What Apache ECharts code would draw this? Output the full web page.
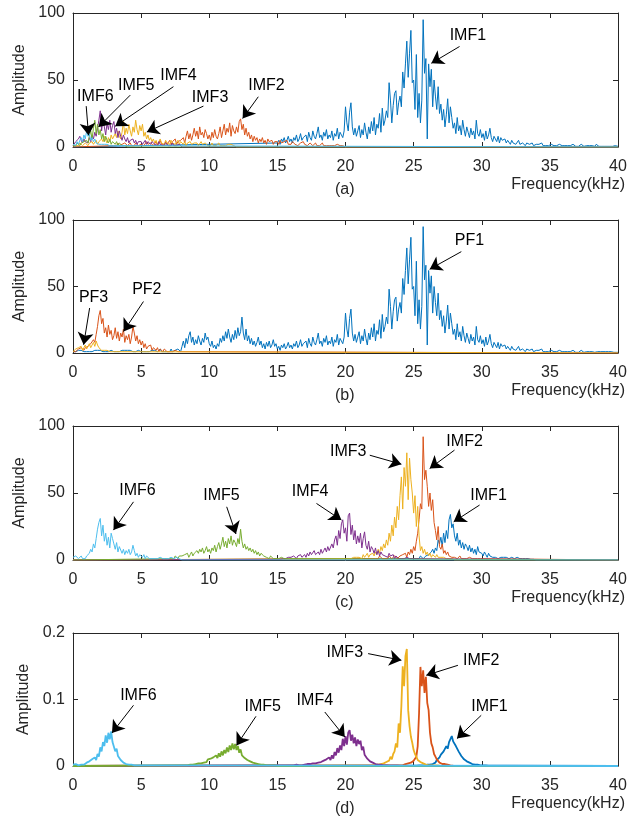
<!DOCTYPE html>
<html><head><meta charset="utf-8">
<script src="https://cdn.jsdelivr.net/npm/echarts@6/dist/echarts.min.js"></script>
<style>html,body{margin:0;padding:0;background:#fff}#c{width:641px;height:817px}</style>
</head><body><div id="c"></div>
<script>
// ---------------- DATA (amplitude spectra, sampled every 0.1 kHz from each start) ----------------
const STEP = 0.1;
const freqTicks = [0, 5, 10, 15, 20, 25, 30, 35, 40];
const ampTicksABC = [0, 50, 100];
const ampTicksD = [0, 0.1, 0.2];

// (a) EMD-type decomposition
const imf1AStart = 15;
const imf1A = [3,5,2,6,4,7,3,5,8,4,6,3,7,5,9,4,6,10,5,7,
  6,9,4,11,7,5,12,8,6,10,15,7,9,5,11,8,13,6,9,7,12,5,10,8,14,6,11,9,7,12,
  30,18,12,26,33,15,9,14,8,12,
  16,7,13,9,18,11,6,15,10,19,
  12,22,9,17,14,25,11,29,16,20,
  27,22,48,35,18,31,40,42,24,33,
  38,30,56,44,62,79,52,70,87,48,
  50,28,69,22,40,18,35,95,55,66,
  6,62,45,58,30,50,38,28,45,25,
  32,20,28,15,24,36,18,30,22,14,
  18,10,22,12,16,9,20,13,8,15,
  11,7,14,9,12,6,20,10,8,13,
  7,10,5,12,6,9,14,7,4,8,
  6,4,8,3,7,5,4,6,3,5,
  4,2,5,3,4,2,3,5,2,3,
  3,2,1,3,2,2,1,3,1,2,
  2,1,2,1,3,1,2,1,2,1,
  1,2,1,1,2,1,1,2,1,1,
  1,1,2,1,0.5,1,1,2,1,0.5,1,0.5,1,2,1,0.5,1,1,0.5,1,
  0.5,1,1,0.5,2,1,0.5,1,0.5,1,0.5,1,0.5,1,0.5,1,0.5,0.5,1,0.5,0.5];
const imf2AStart = 3;
const imf2A = [1,2,1,3,1,2,2,1,3,2,1,2,3,1,2,1,3,2,1,2,2,3,1,2,4,2,1,3,2,1,
  2,4,1,3,5,2,3,1,4,2,3,5,2,4,3,6,2,4,3,5,
  4,7,3,8,12,6,10,5,9,14,
  8,12,6,15,9,11,7,13,10,6,
  9,5,11,7,13,8,6,10,15,7,
  12,17,9,14,11,18,8,16,12,10,
  15,11,19,21,13,17,9,14,8,11,
  6,9,4,8,5,7,3,6,4,7,
  3,5,2,6,4,3,5,2,4,3,
  4,2,5,3,2,4,3,5,2,3,2,4,3,2,3,1,2,3,2,4,
  2,3,1,2,3,2,1,2,3,1,2,1,2,3,1,2,1,2,1,2,1,2,1,1,2,1,1,2,1,1,0];
const imf3AStart = 0;
const imf3A = [1,2,1,2,1,3,2,1,2,3,2,1,3,2,4,2,3,5,2,4,
  3,6,4,8,5,3,7,4,9,6,
  5,10,7,12,8,6,11,19,9,14,
  10,17,12,8,15,11,20,13,9,16,
  12,17,8,11,6,9,5,7,4,6,
  3,5,2,4,6,3,4,2,5,3,
  4,2,5,3,4,2,3,5,2,4,
  3,2,4,1,3,2,4,2,1,3,2,3,1,2,4,2,1,3,2,1,
  2,1,3,1,2,1,2,3,1,2,1,2,1,1,2,1,2,1,1,1,0];
const imf4AStart = 0;
const imf4A = [1,2,4,3,6,8,5,3,6,4,
  5,3,7,4,9,6,11,8,14,20,
  27,12,22,15,9,18,13,20,11,16,
  19,10,14,7,12,8,5,9,6,4,
  7,3,5,4,6,3,5,2,4,3,
  4,2,3,5,2,4,3,2,4,3,
  2,3,1,4,2,3,1,2,3,2,
  1,2,1,3,1,2,1,1,2,1,0];
const imf5AStart = 0;
const imf5A = [1,2,1,3,2,1,3,2,4,3,
  5,3,8,12,6,14,20,10,17,9,
  13,6,10,4,8,5,3,6,2,4,
  3,2,4,1,3,2,1,2,1,1,0];
const imf6AStart = 0;
const imf6A = [2,3,1,4,2,5,7,4,9,6,
  12,8,10,5,7,4,6,3,4,2,
  3,2,1,2,1,2,1,1,2,1,0];

// (b) LMD-type decomposition (PF1 above 15 kHz coincides with IMF1 of (a))
const pf1LowStart = 0;
const pf1Low = [1,2,1,1,2,1,2,1,1,2,1,2,1,2,1,1,2,1,2,1,2,1,1,2,1,2,1,1,2,1,
  1,2,1,2,1,1,2,1,2,1,2,1,2,1,1,2,1,1,2,1,1,2,1,2,1,2,1,1,2,1,
  2,1,1,2,3,1,2,1,2,1,2,1,3,1,2,2,1,3,2,1,
  5,9,4,11,7,13,16,8,12,6,
  10,7,13,9,6,11,8,15,10,12,
  7,5,9,4,6,3,7,5,11,8,
  13,9,16,11,18,12,8,14,10,17,
  11,19,13,16,27,15,10,18,9,13,
  7,11,6,9,5,8,12,6,9,4,
  7,3,8,5,9,4,6,10,5,7];
const pf2BStart = 0;
const pf2B = [1,2,1,2,3,2,4,3,2,4,
  3,5,4,7,6,10,8,14,20,28,
  32,22,26,15,19,12,21,14,17,10,
  13,19,11,16,9,15,12,18,8,13,
  10,14,7,12,20,15,9,13,7,10,
  6,9,4,7,3,5,4,6,2,4,
  3,2,4,1,3,2,1,3,2,1,
  2,1,2,1,1,2,1,1,2,1,0];
const pf3BStart = 0;
const pf3B = [1,2,3,2,4,3,5,2,4,6,
  3,5,7,4,6,8,5,9,6,4,
  3,2,1,2,1,2,1,1,1,1,0];

// (c) proposed method, amplitude
const imf1CStart = 25;
const imf1C = [1,0.5,1,2,1,3,2,1,2,3,
  2,4,3,6,8,5,9,7,15,12,
  17,10,20,13,22,16,30,34,24,27,
  18,14,20,11,15,9,13,8,12,10,
  7,11,6,9,5,8,4,10,6,7,
  5,3,6,4,2,5,3,4,2,3,
  2,3,1,2,2,1,2,1,2,1,
  1,1,2,1,1,1,2,1,1,1,
  1,0.5,1,0.5,1,0.5,0.5,1,0.5,0.5,0];
const imf2CStart = 22;
const imf2C = [1,2,1,2,1,3,2,1,2,1,
  2,1,3,2,1,2,3,2,1,2,
  3,2,4,3,5,2,6,4,8,5,
  10,7,14,20,30,42,38,92,60,67,
  55,40,50,37,45,28,22,15,25,10,
  8,12,5,7,4,6,3,4,2,3,
  2,3,1,2,3,1,2,1,2,1,
  1,2,1,1,2,1,1,1,1,1,0];
const imf3CStart = 20;
const imf3C = [1,2,1,2,1,1,2,1,2,1,
  2,3,1,4,2,3,5,2,4,3,
  5,3,6,4,8,5,10,7,12,9,
  15,11,20,14,26,18,32,24,40,30,
  48,62,38,69,55,80,45,76,60,50,
  35,48,25,40,18,7,10,5,8,4,
  6,3,5,2,4,3,2,4,2,1,
  2,1,2,1,1,2,1,1,1,1,0];
const imf4CStart = 15;
const imf4C = [0.5,1,0.5,1,1,2,1,1,2,1,
  2,1,3,2,1,3,2,4,2,3,
  4,2,5,3,6,4,3,7,4,5,
  6,4,8,5,7,9,6,10,7,8,
  12,9,15,18,11,22,16,27,30,20,
  24,14,33,35,19,26,15,22,12,18,
  13,20,9,16,21,11,8,14,6,10,
  8,5,9,4,7,3,6,4,5,3,
  4,2,5,3,2,4,1,3,2,1,
  2,1,2,1,1,2,1,1,1,1,0];
const imf5CStart = 7;
const imf5C = [1,2,1,2,1,3,2,1,3,2,
  3,2,4,3,5,2,4,6,3,5,
  4,7,5,8,6,9,5,7,10,6,
  8,5,9,7,11,6,10,13,8,12,
  17,10,14,9,16,12,18,11,15,13,
  10,16,12,23,14,9,12,8,10,7,
  9,6,8,5,7,4,6,3,5,4,
  3,4,2,3,1,3,2,1,2,1,
  2,1,1,2,1,1,1,1,1,1,0];
const imf6CStart = 0;
const imf6C = [2,1,3,2,1,2,3,1,2,1,
  3,2,5,8,6,12,9,16,23,28,
  31,18,26,14,20,11,17,9,20,16,
  12,8,13,6,10,11,5,8,4,7,
  5,8,4,6,11,7,3,5,2,4,
  3,2,4,1,3,2,1,2,1,2,
  1,2,1,1,2,1,1,2,1,1,
  1,1,2,1,1,1,2,1,1,1,0];

// (d) proposed method, normalised amplitude
const imf1DStart = 25;
const imf1D = [0.0005,0.001,0.0005,0.001,0.001,0.002,0.001,0.002,0.001,0.002,
  0.002,0.003,0.002,0.004,0.003,0.006,0.005,0.009,0.008,0.013,
  0.017,0.014,0.022,0.020,0.030,0.026,0.036,0.034,0.045,0.037,
  0.040,0.030,0.033,0.022,0.024,0.015,0.016,0.010,0.011,0.007,
  0.008,0.005,0.006,0.003,0.004,0.002,0.003,0.002,0.002,0.001,
  0.002,0.001,0.001,0.001,0.001,0.0005,0.001,0.0005,0.0005,0.0005,
  0.0005,0.0005,0.0005,0.0005,0.0005,0.0005,0.0005,0.0005,0.0005,0.0005,0];
const imf2DStart = 24;
const imf2D = [0.001,0.002,0.001,0.002,0.003,0.002,0.004,0.003,0.005,0.004,
  0.008,0.006,0.014,0.030,0.080,0.149,0.120,0.144,0.110,0.134,
  0.095,0.084,0.050,0.034,0.028,0.018,0.014,0.010,0.008,0.005,
  0.004,0.003,0.002,0.003,0.001,0.002,0.001,0.001,0.0005,0.0005,0];
const imf3DStart = 22;
const imf3D = [0.001,0.001,0.002,0.001,0.002,0.002,0.003,0.002,0.004,0.003,
  0.006,0.004,0.008,0.014,0.010,0.018,0.022,0.034,0.028,0.064,
  0.050,0.090,0.150,0.120,0.165,0.176,0.084,0.060,0.044,0.035,
  0.024,0.018,0.014,0.009,0.010,0.006,0.005,0.004,0.003,0.002,
  0.002,0.001,0.002,0.001,0.001,0.001,0.0005,0.001,0.0005,0.0005,0];
const imf4DStart = 16;
const imf4D = [0.001,0.0005,0.001,0.001,0.002,0.001,0.001,0.002,0.001,0.002,
  0.002,0.001,0.003,0.002,0.003,0.002,0.004,0.002,0.004,0.003,
  0.005,0.003,0.006,0.004,0.008,0.005,0.010,0.007,0.013,0.009,
  0.016,0.011,0.021,0.016,0.027,0.020,0.031,0.024,0.041,0.030,
  0.045,0.032,0.050,0.054,0.038,0.047,0.034,0.043,0.030,0.040,
  0.033,0.038,0.024,0.029,0.017,0.020,0.011,0.013,0.007,0.009,
  0.005,0.006,0.003,0.004,0.002,0.003,0.002,0.002,0.001,0.001,
  0.001,0.001,0.0005,0.001,0.0005,0.0005,0.0005,0.0005,0.0005,0.0005,0];
const imf5DStart = 8;
const imf5D = [0.001,0.002,0.001,0.002,0.001,0.003,0.002,0.003,0.002,0.004,
  0.003,0.005,0.004,0.006,0.004,0.007,0.005,0.008,0.006,0.010,
  0.007,0.011,0.009,0.013,0.010,0.016,0.012,0.019,0.014,0.022,
  0.016,0.024,0.019,0.028,0.021,0.031,0.024,0.034,0.025,0.033,
  0.024,0.030,0.020,0.025,0.016,0.019,0.012,0.015,0.009,0.012,
  0.007,0.009,0.005,0.007,0.004,0.005,0.003,0.004,0.002,0.003,
  0.002,0.003,0.001,0.002,0.001,0.002,0.001,0.001,0.001,0.001,0];
const imf6DStart = 0;
const imf6D = [0.002,0.001,0.003,0.002,0.001,0.003,0.002,0.004,0.002,0.003,
  0.005,0.003,0.007,0.005,0.010,0.007,0.013,0.009,0.018,0.014,
  0.028,0.022,0.036,0.030,0.046,0.035,0.050,0.040,0.052,0.036,
  0.035,0.022,0.026,0.015,0.016,0.009,0.010,0.005,0.006,0.003,
  0.004,0.002,0.003,0.002,0.002,0.001,0.002,0.001,0.001,0.001,0];

// ---------------- CHART BUILDING ----------------
const C = {blue:'#0072BD', orange:'#D95319', yellow:'#EDB120', purple:'#7E2F8E', green:'#77AC30', cyan:'#4DBEEE'};
const FONT = 'Liberation Sans, Arial, Helvetica, sans-serif';
const INK = '#262626';

function toPairs(start, vals) {
  const out = [];
  if (start > 0) out.push([0, 0]);
  vals.forEach((v, i) => out.push([Math.round((start + i * STEP) * 100) / 100, v]));
  const last = start + (vals.length - 1) * STEP;
  if (last < 40 - 1e-9) out.push([40, 0]);
  return out;
}

const grids = [
  {left: 73, top: 13, width: 545, height: 134},
  {left: 73, top: 220, width: 545, height: 133},
  {left: 73, top: 426, width: 545, height: 134},
  {left: 73, top: 633, width: 545, height: 133}
];

const panels = [
  { max: 100, yTicks: ampTicksABC, tag: '(a)', lw: 1, series: [
      ['IMF1', C.blue, toPairs(imf1AStart, imf1A)],
      ['IMF2', C.orange, toPairs(imf2AStart, imf2A)],
      ['IMF3', C.yellow, toPairs(imf3AStart, imf3A)],
      ['IMF4', C.purple, toPairs(imf4AStart, imf4A)],
      ['IMF5', C.green, toPairs(imf5AStart, imf5A)],
      ['IMF6', C.cyan, toPairs(imf6AStart, imf6A)]],
    notes: [
      {t:'IMF6', at:[1.64,37.5], from:[0.97,30.5], to:[1.14,8.8]},
      {t:'IMF5', at:[4.64,46], from:[4.2,38.7], to:[1.88,15]},
      {t:'IMF4', at:[7.74,53], from:[7.37,45], to:[3.1,15.5]},
      {t:'IMF3', at:[10.06,37], from:[9.57,30.5], to:[5.42,11.2]},
      {t:'IMF2', at:[14.2,45.5], from:[13.6,37.5], to:[12.45,21.3]},
      {t:'IMF1', at:[28.98,83], from:[28.37,75], to:[26.3,62.5]}]},
  { max: 100, yTicks: ampTicksABC, tag: '(b)', lw: 1, series: [
      ['PF1', C.blue, toPairs(pf1LowStart, pf1Low.concat(imf1A))],
      ['PF2', C.orange, toPairs(pf2BStart, pf2B)],
      ['PF3', C.yellow, toPairs(pf3BStart, pf3B)]],
    notes: [
      {t:'PF3', at:[1.51,41.3], from:[1.22,33.8], to:[0.78,6.2]},
      {t:'PF2', at:[5.42,47.5], from:[5.17,38.7], to:[3.71,16.2]},
      {t:'PF1', at:[29.1,84.5], from:[28.5,76.2], to:[26.18,63]}]},
  { max: 100, yTicks: ampTicksABC, tag: '(c)', lw: 1, series: [
      ['IMF1', C.blue, toPairs(imf1CStart, imf1C)],
      ['IMF2', C.orange, toPairs(imf2CStart, imf2C)],
      ['IMF3', C.yellow, toPairs(imf3CStart, imf3C)],
      ['IMF4', C.purple, toPairs(imf4CStart, imf4C)],
      ['IMF5', C.green, toPairs(imf5CStart, imf5C)],
      ['IMF6', C.cyan, toPairs(imf6CStart, imf6C)]],
    notes: [
      {t:'IMF6', at:[4.73,52.1], from:[4.44,43.4], to:[2.97,22.3]},
      {t:'IMF5', at:[10.9,47.7], from:[11.28,39.7], to:[11.96,19.4]},
      {t:'IMF4', at:[17.4,50.9], from:[17.87,42.2], to:[19.7,29.8]},
      {t:'IMF3', at:[20.2,80.6], from:[21.78,78.2], to:[24.1,71.5]},
      {t:'IMF2', at:[28.74,88], from:[28.0,82], to:[26.18,68.3]},
      {t:'IMF1', at:[30.5,48.4], from:[29.84,41], to:[27.94,28.5]}]},
  { max: 0.2, yTicks: ampTicksD, tag: '(d)', lw: 1.8, series: [
      ['IMF1', C.blue, toPairs(imf1DStart, imf1D)],
      ['IMF2', C.orange, toPairs(imf2DStart, imf2D)],
      ['IMF3', C.yellow, toPairs(imf3DStart, imf3D)],
      ['IMF4', C.purple, toPairs(imf4DStart, imf4D)],
      ['IMF5', C.green, toPairs(imf5DStart, imf5D)],
      ['IMF6', C.cyan, toPairs(imf6DStart, imf6D)]],
    notes: [
      {t:'IMF6', at:[4.8,0.1063], from:[4.44,0.0913], to:[2.86,0.0496]},
      {t:'IMF5', at:[13.92,0.0887], from:[13.43,0.0747], to:[12.0,0.031]},
      {t:'IMF4', at:[17.75,0.0988], from:[18.48,0.0812], to:[19.95,0.0436]},
      {t:'IMF3', at:[19.95,0.17], from:[21.66,0.169], to:[24.1,0.159]},
      {t:'IMF2', at:[29.96,0.159], from:[28.25,0.1514], to:[25.93,0.1364]},
      {t:'IMF1', at:[30.57,0.0898], from:[29.96,0.0762], to:[28.18,0.0412]}]}
];

const xAxes = [], yAxes = [], series = [], graphics = [];
const axisLine = {show: true, onZero: false, lineStyle: {color: INK, width: 1}};
const tick = {show: true, inside: true, length: 5, lineStyle: {color: INK, width: 1}};

panels.forEach((p, i) => {
  const interval = p.yTicks[1] - p.yTicks[0];
  xAxes.push({type:'value', gridIndex:i, position:'bottom', min:freqTicks[0], max:freqTicks[freqTicks.length-1],
    interval: freqTicks[1]-freqTicks[0], axisLine, axisTick: tick, splitLine:{show:false},
    axisLabel:{color:INK, fontSize:16, fontFamily:FONT, margin:12}});
  xAxes.push({type:'value', gridIndex:i, position:'top', min:freqTicks[0], max:freqTicks[freqTicks.length-1],
    interval: freqTicks[1]-freqTicks[0], axisLine, axisTick: tick, splitLine:{show:false}, axisLabel:{show:false}});
  yAxes.push({type:'value', gridIndex:i, position:'left', min:p.yTicks[0], max:p.max, interval,
    axisLine, axisTick: tick, splitLine:{show:false},
    axisLabel:{color:INK, fontSize:16, fontFamily:FONT, margin:8},
    name:'Amplitude', nameLocation:'middle', nameGap: 40,
    nameTextStyle:{color:INK, fontSize:16, fontFamily:FONT}});
  yAxes.push({type:'value', gridIndex:i, position:'right', min:p.yTicks[0], max:p.max, interval,
    axisLine, axisTick: tick, splitLine:{show:false}, axisLabel:{show:false}});

  p.series.forEach(([name, color, data]) => {
    series.push({type:'line', name, xAxisIndex:2*i, yAxisIndex:2*i, data, showSymbol:false, symbol:'none',
      lineStyle:{color, width:p.lw}, itemStyle:{color}, silent:true, animation:false, z:2});
  });
  // annotations (arrows + labels) in data coordinates
  series.push({type:'line', name:'notes'+i, xAxisIndex:2*i, yAxisIndex:2*i, data:[], silent:true, animation:false, z:10,
    markLine:{silent:true, animation:false, symbol:['none','arrow'], symbolSize:12,
      lineStyle:{color:'#000', width:1, type:'solid'}, itemStyle:{color:'#000'}, label:{show:false},
      data: p.notes.map(n => [{coord:n.from}, {coord:n.to}])},
    markPoint:{silent:true, animation:false, symbol:'circle', symbolSize:1, itemStyle:{color:'rgba(0,0,0,0)'},
      label:{show:true, position:'inside', color:'#000', fontSize:16, fontFamily:FONT},
      data: p.notes.map(n => ({coord:n.at, label:{formatter:n.t}}))}
  });

  const g = grids[i];
  graphics.push({type:'text', right: 641 - 625, top: g.top + g.height + 30,
    style:{text:'Frequency(kHz)', fill:INK, font:'16px ' + FONT}});
  graphics.push({type:'text', left: 335, top: g.top + g.height + 35,
    style:{text:p.tag, fill:INK, font:'16px ' + FONT}});
});

const chart = echarts.init(document.getElementById('c'), null, {renderer:'canvas'});
chart.setOption({
  animation:false,
  backgroundColor:'#fff',
  grid: grids,
  xAxis: xAxes,
  yAxis: yAxes,
  series,
  graphic: graphics
});
</script>
</body></html>
